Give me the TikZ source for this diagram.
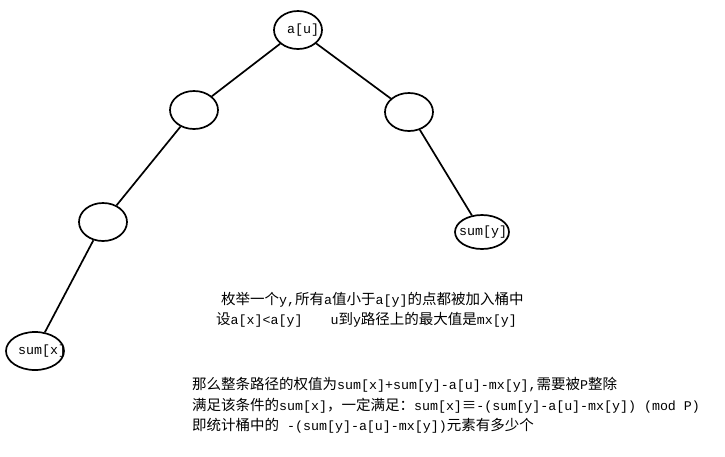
\documentclass[tikz,border=0pt]{standalone}
\usepackage{fontspec}
\setmainfont{Liberation Mono}
\newfontfamily\zhfont{Noto Sans CJK SC}
\newcommand\hz[1]{{\zhfont\fontsize{14.5}{17}\selectfont #1}}
\usetikzlibrary{positioning, shapes.geometric}

\begin{document}
\begin{tikzpicture}[
    x=1pt, y=-1pt,
    vtx/.style={draw, ellipse, line width=1.7pt, minimum width=48pt, minimum height=38pt, inner sep=0pt},
    lbl/.style={anchor=west, inner sep=0pt, font=\fontsize{13.3}{15}\selectfont},
    edge/.style={line width=1.7pt},
    txt/.style={anchor=west, inner sep=0pt, font=\fontsize{13.3}{15}\selectfont}
]
\useasboundingbox (0,0) rectangle (725,456);

% 1. tree vertices
\node[vtx] (root) at (298,30) {};
\node[lbl] (rootl) at (287,30) {a[u]};
\node[vtx] (lmid) at (194,110) {};
\node[vtx] (rmid) at (409,112) {};
\node[vtx] (llow) at (103,222) {};
\node[vtx, minimum width=58pt] (sumx) at (35,351) {};
\node[lbl] (sumxl) at (18,351) {sum[x]};
\node[vtx, minimum width=54pt, minimum height=34pt] (sumy) at (482,232) {};
\node[lbl] (sumyl) at (459,232) {sum[y]};

% 2. edges
\draw[edge] (root) -- (lmid);
\draw[edge] (root) -- (rmid);
\draw[edge] (lmid) -- (llow);
\draw[edge] (llow) -- (sumx);
\draw[edge] (rmid) -- (sumy);

% 3. notes
\node[txt] (n1) at (221,300) {\hz{枚举一个}y,\hz{所有}a\hz{值小于}a[y]\hz{的点都被加入桶中}};
\node[txt] (n2) at (216,320) {\hz{设}a[x]<a[y]\hspace{28pt}u\hz{到}y\hz{路径上的最大值是}mx[y]};
\node[txt] (n3) at (192,385) {\hz{那么整条路径的权值为}sum[x]+sum[y]-a[u]-mx[y],\hz{需要被}P\hz{整除}};
\node[txt] (n4) at (192,406) {\hz{满足该条件的}sum[x]\hz{，一定满足：}sum[x]\hz{≡}-(sum[y]-a[u]-mx[y]) (mod P)};
\node[txt] (n5) at (192,426) {\hz{即统计桶中的} -(sum[y]-a[u]-mx[y])\hz{元素有多少个}};

\end{tikzpicture}
\end{document}
